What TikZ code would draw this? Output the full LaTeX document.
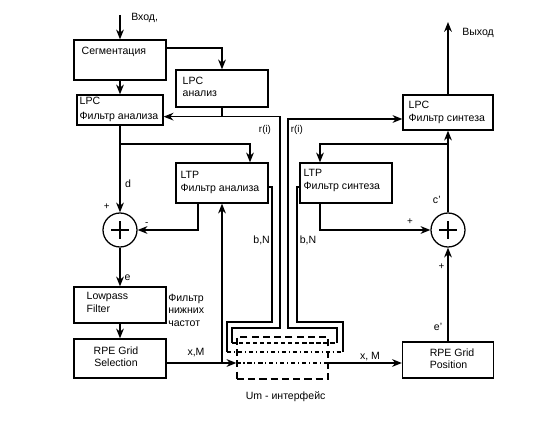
\documentclass[tikz,border=0pt]{standalone}
\usepackage{fontspec}
\setmainfont{Liberation Sans}
\usetikzlibrary{calc}
\usetikzlibrary{arrows.meta}

\tikzset{
  blok/.style={draw, line width=0.9pt, minimum width=2.3cm, minimum height=1cm, inner sep=0pt},
  txt/.style={font=\fontsize{7.5}{8.8}\selectfont, inner sep=0pt, align=left},
  sml/.style={font=\fontsize{7}{8}\selectfont, inner sep=0pt},
  lin/.style={line width=0.8pt},
  arr/.style={lin, -{Stealth[length=7pt, width=5.5pt]}},
  summa/.style={draw, circle, line width=0.9pt, minimum size=0.85cm, inner sep=0pt,
    path picture={\draw[line width=0.8pt] (path picture bounding box.center) +(-0.22,0) -- +(0.22,0)
                  (path picture bounding box.center) +(0,-0.22) -- +(0,0.22);}},
  iface/.style={draw, line width=0.9pt, dash pattern=on 5pt off 3pt,
    minimum width=2.275cm, minimum height=1.05cm},
}

\begin{document}
\begin{tikzpicture}
            \useasboundingbox (0,0) rectangle (14,10.5);
            % Analysis side
            \node[blok, label={[txt, anchor=north west, xshift=0.2cm, yshift=-0.175cm]north west:Сегментация}]
                 (seg) at (3.00, 9.00) {};
            \node[blok, minimum height=0.925cm, label={[txt, anchor=north west, xshift=0.175cm, yshift=-0.175cm]north west:{LPC\\анализ}}]
                 (lpca) at (5.55, 8.2875) {};
            \node[blok, minimum width=2.15cm, minimum height=0.75cm, label={[txt, anchor=north west, xshift=0.075cm, yshift=-0.05cm]north west:{LPC\\[2.5pt]Фильтр анализа}}]
                 (lpcf) at (3.00, 7.75) {};
            \node[blok, label={[txt, anchor=north west, xshift=0.125cm, yshift=-0.225cm]north west:{LTP\\Фильтр анализа}}]
                 (ltpa) at (5.55, 5.925) {};
            \node[summa] (s1) at (3.00, 4.75) {};
            \node[blok, minimum height=0.9cm, label={[txt, anchor=north west, xshift=0.325cm, yshift=-0.15cm]north west:{Lowpass\\Filter}}]
                 (lowp) at (3.00, 2.875) {};
            \node[blok, minimum height=0.975cm, label={[txt, align=center, anchor=north, xshift=-0.1cm, yshift=-0.2cm]north:{RPE Grid\\Selection}}]
                 (rpes) at (3.00, 1.5375) {};
            % Synthesis side
            \node[blok, label={[txt, anchor=north west, xshift=0.1cm, yshift=-0.175cm]north west:{LTP\\Фильтр синтеза}}]
                 (ltps) at (8.65, 5.925) {};
            \node[blok, minimum width=2.25cm, minimum height=0.875cm, label={[txt, anchor=north west, xshift=0.15cm, yshift=-0.17cm]north west:{LPC\\Фильтр синтеза}}]
                 (lpcs) at (11.20, 7.6875) {};
            \node[summa] (s2) at (11.20, 4.75) {};
            \node[blok, minimum width=2.275cm, minimum height=0.9cm, label={[txt, anchor=north west, xshift=0.69cm, yshift=-0.175cm]north west:{RPE Grid\\Position}}]
                 (rpep) at (11.20, 1.50) {};
            % Um interface
            \node[iface] (um) at (7.0625, 1.55) {};
            \node[txt] (umt) at (7.14, 0.575) {Um - интерфейс};
            % Input, output
            \coordinate (in)  at (3.00, 10.125);
            \coordinate (out) at (11.20, 9.95);
            \draw[arr] (in) -- (seg);
            \node[txt, anchor=west] (vhod) at (3.275, 10.05) {Вход,};
            \draw[arr] (lpcs) -- (out);
            \node[txt, anchor=west] (vyhod) at (11.55, 9.675) {Выход};
            % Analysis chain
            \draw[arr] (seg) -- (lpcf);
            \draw[arr] ([yshift=0.3cm]seg.east) -| (lpca);
            \draw[lin] (lpca.south) -- ++(0,-0.225) coordinate (ri);
            \draw[arr] (ri) -- (ri -| lpcf.east);
            \draw[arr] (lpcf) -- (s1);
            \node[txt] (d) at (3.20, 5.90) {d};
            \draw[arr] (lpcf.south |- 0,6.9) -| ([xshift=0.7cm]ltpa.north);
            \draw[arr] ([xshift=-0.6cm]ltpa.south) |- (s1);
            \node[sml] (s1p) at (2.67, 5.33) {+};
            \node[sml] (s1m) at (3.67, 4.90) {-};
            \draw[arr] (s1) -- (lowp);
            \node[txt] (e) at (3.19, 3.56) {e};
            \node[txt, anchor=north west] (nch) at (4.20, 3.15) {Фильтр\\нижних\\частот};
            \draw[arr] (lowp) -- (rpes);
            % x,M through the interface
            \coordinate (xm) at ([yshift=-0.1125cm]rpes.east);
            \draw[arr] (xm) -- (xm -| um.west);
            \draw[lin, dash dot] (xm -| um.west) -- (xm -| um.east);
            \draw[arr] (xm -| um.east) -- (xm -| rpep.west);
            \draw[arr] (xm -| ltpa.south) -- (ltpa.south);
            \node[txt] (xml) at (4.90, 1.675) {x,M};
            \node[txt] (xmr) at (9.25, 1.58) {x, M};
            % r(i) through the interface
            \draw[lin] (ri) -| (7.00, 2.30) -| (5.80, 1.925);
            \draw[lin, densely dashed] (5.80, 1.925) -- (8.425, 1.925);
            \draw[arr] (8.425, 1.925) |- (7.20, 2.30) |- ([yshift=-0.1625cm]lpcs.west);
            \node[sml] (ril) at (6.625, 7.25) {r(i)};
            \node[sml] (rir) at (7.42, 7.25) {r(i)};
            % b,N through the interface
            \draw[lin] ([yshift=-0.1cm]ltpa.east) -| (6.80, 2.45) -| (5.675, 1.70);
            \draw[lin, dash dot] (5.675, 1.70) -- (8.575, 1.70);
            \draw[lin] (8.575, 1.70) |- (7.425, 2.45) |- ([yshift=-0.1cm]ltps.west);
            \node[txt] (bnl) at (6.54, 4.50) {b,N};
            \node[txt] (bnr) at (7.70, 4.50) {b,N};
            % Synthesis chain
            \draw[arr] (rpep) -- (s2);
            \node[txt] (ep) at (10.95, 2.33) {e'};
            \node[sml] (s2m) at (11.04, 3.83) {+};
            \draw[arr] (s2) -- (lpcs);
            \node[txt] (cp) at (10.92, 5.50) {c'};
            \draw[arr] (s2.north |- 0,6.9) -| ([xshift=-0.65cm]ltps.north);
            \draw[arr] ([xshift=-0.65cm]ltps.south) |- (s2);
            \node[sml] (s2p) at (10.25, 4.96) {+};
\end{tikzpicture}
\end{document}
